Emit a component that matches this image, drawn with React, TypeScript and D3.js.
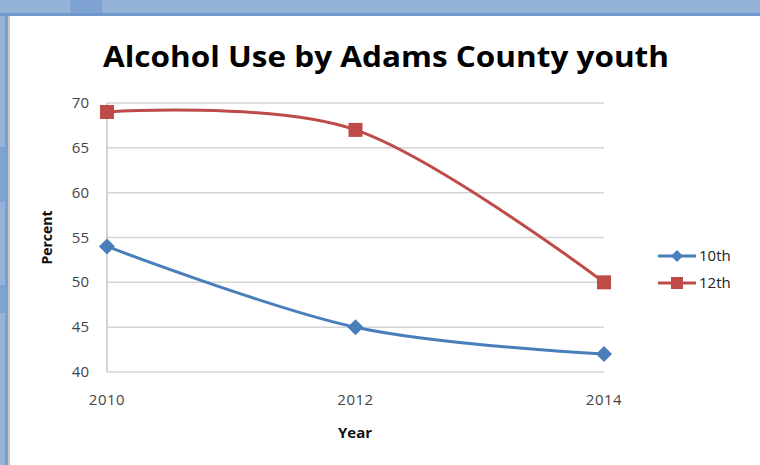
import React from "react";
import * as d3 from "d3";

const years = [2010, 2012, 2014];
const tenth = [54, 45, 42];
const twelfth = [69, 67, 50];
const yTicks = [40, 45, 50, 55, 60, 65, 70];
const seriesNames = ["10th", "12th"];
const title = "Alcohol Use by Adams County youth";

const BLUE = "#4a7ebb";
const RED = "#be4b48";
const FONT = "'Open Sans', 'Liberation Sans', sans-serif";

export default function App() {
  const x = d3.scaleLinear().domain([2010, 2014]).range([107, 604]);
  const y = d3.scaleLinear().domain([40, 70]).range([372, 103]);
  const line = d3
    .line<[number, number]>()
    .x((d) => x(d[0]))
    .y((d) => y(d[1]))
    .curve(d3.curveCardinal.tension(0));
  const s10 = years.map((yr, i) => [yr, tenth[i]] as [number, number]);
  const s12 = years.map((yr, i) => [yr, twelfth[i]] as [number, number]);

  const diamond = (cx: number, cy: number, r: number) =>
    `M${cx},${cy - r}L${cx + r},${cy}L${cx},${cy + r}L${cx - r},${cy}Z`;

  return (
    <svg
      width={760}
      height={465}
      style={{ position: "absolute", left: 0, top: 0, display: "block" }}
    >
      {/* frame / window background */}
      <rect x={0} y={0} width={760} height={465} fill="#95b3d7" />
      <rect x={70} y={0} width={32} height={14} fill="#7fa3d3" />
      <rect x={0} y={13} width={760} height={3} fill="#6f97cc" />
      <rect x={0} y={147} width={5} height={55} fill="#7fa3d3" />
      <rect x={0} y={285} width={5} height={28} fill="#7fa3d3" />
      <rect x={5} y={16} width={3} height={449} fill="#7a9fd0" />
      <rect x={8} y={16} width={2} height={449} fill="#c8c8c8" />
      <rect x={10} y={16} width={750} height={449} fill="#ffffff" />

      {/* title */}
      <text
        x={386}
        y={67}
        textAnchor="middle"
        fontFamily={FONT}
        fontWeight="bold"
        fontSize={29}
        fill="#000"
        textLength={566}
        lengthAdjust="spacingAndGlyphs"
      >
        {title}
      </text>

      {/* gridlines */}
      {yTicks.map((t) => (
        <line
          key={t}
          x1={x(2010)}
          x2={x(2014)}
          y1={y(t)}
          y2={y(t)}
          stroke="#d4d4d4"
          strokeWidth={1.5}
        />
      ))}
      <line x1={x(2010)} x2={x(2010)} y1={y(70)} y2={y(40)} stroke="#c4c4c4" strokeWidth={1.5} />

      {/* y tick labels */}
      {yTicks.map((t) => (
        <text
          key={t}
          x={89}
          y={y(t) + 5}
          textAnchor="end"
          fontFamily={FONT}
          fontSize={15}
          fill="#444"
        >
          {t}
        </text>
      ))}

      {/* x tick labels */}
      {years.map((yr) => (
        <text
          key={yr}
          x={x(yr)}
          y={405}
          textAnchor="middle"
          fontFamily={FONT}
          fontSize={15}
          letterSpacing={0.5}
          fill="#444"
        >
          {yr}
        </text>
      ))}

      {/* axis titles */}
      <text
        x={355}
        y={438}
        textAnchor="middle"
        fontFamily={FONT}
        fontWeight="bold"
        fontSize={15}
        fill="#111"
      >
        Year
      </text>
      <text
        transform={`translate(52,${(y(70) + y(40)) / 2}) rotate(-90)`}
        textAnchor="middle"
        fontFamily={FONT}
        fontWeight="bold"
        fontSize={14}
        fill="#111"
      >
        Percent
      </text>

      {/* series lines */}
      <path d={line(s12) || ""} fill="none" stroke={RED} strokeWidth={3} />
      <path d={line(s10) || ""} fill="none" stroke={BLUE} strokeWidth={3} />

      {/* markers */}
      {s12.map((d, i) => (
        <rect
          key={i}
          x={x(d[0]) - 7}
          y={y(d[1]) - 7}
          width={14}
          height={14}
          fill={RED}
        />
      ))}
      {s10.map((d, i) => (
        <path key={i} d={diamond(x(d[0]), y(d[1]), 8)} fill={BLUE} />
      ))}

      {/* legend */}
      {seriesNames.map((name, i) => {
        const ly = 256 + i * 27;
        const color = i === 0 ? BLUE : RED;
        return (
          <g key={name}>
            <line x1={658} x2={696} y1={ly} y2={ly} stroke={color} strokeWidth={3} />
            {i === 0 ? (
              <path d={diamond(677, ly, 6)} fill={color} />
            ) : (
              <rect x={671} y={ly - 6} width={12} height={12} fill={color} />
            )}
            <text
              x={699}
              y={ly + 5}
              fontFamily={FONT}
              fontSize={15}
              fill="#222"
            >
              {name}
            </text>
          </g>
        );
      })}
    </svg>
  );
}
